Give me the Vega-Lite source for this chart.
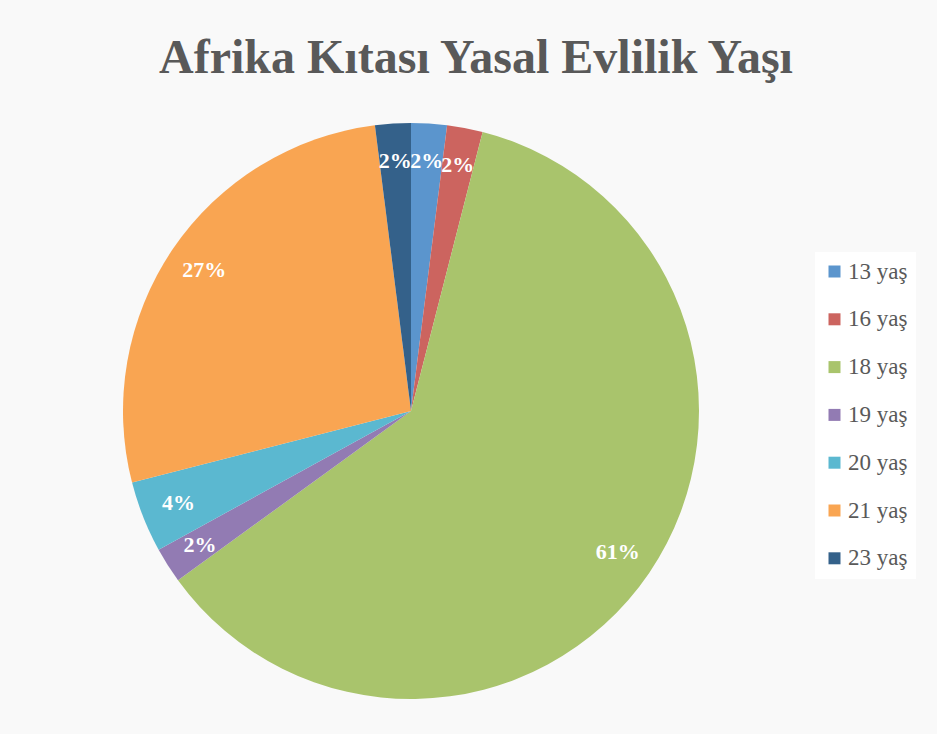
{
  "$schema": "https://vega.github.io/schema/vega-lite/v6.json",
  "autosize": {"type": "none"},
  "width": 822,
  "height": 576,
  "padding": {"top": 123, "left": 0, "right": 115, "bottom": 35},
  "background": "#F9F9F9",
  "title": {
    "text": "Afrika Kıtası Yasal Evlilik Yaşı",
    "font": "Liberation Serif",
    "fontSize": 48,
    "fontWeight": "bold",
    "color": "#595959",
    "anchor": "middle",
    "baseline": "alphabetic",
    "offset": 2,
    "dx": 65
  },
  "data": {
    "values": [
      {"age": "13 yaş", "value": 0.02},
      {"age": "16 yaş", "value": 0.02},
      {"age": "18 yaş", "value": 0.61},
      {"age": "19 yaş", "value": 0.02},
      {"age": "20 yaş", "value": 0.04},
      {"age": "21 yaş", "value": 0.27},
      {"age": "23 yaş", "value": 0.02}
    ]
  },
  "encoding": {
    "theta": {"field": "value", "type": "quantitative", "stack": true},
    "order": {"field": "age", "type": "ordinal", "sort": "ascending"}
  },
  "layer": [
    {
      "mark": {"type": "arc", "outerRadius": 288},
      "encoding": {
        "color": {
          "field": "age",
          "type": "nominal",
          "scale": {
            "domain": ["13 yaş", "16 yaş", "18 yaş", "19 yaş", "20 yaş", "21 yaş", "23 yaş"],
            "range": ["#5B95CD", "#CC645F", "#A9C46C", "#927BB3", "#5BB8D0", "#F9A552", "#34618A"]
          },
          "legend": {
            "orient": "none",
            "legendX": 815,
            "legendY": 129,
            "title": null,
            "symbolType": "square",
            "symbolSize": 144,
            "symbolStrokeWidth": 0,
            "labelFont": "Liberation Serif",
            "labelFontSize": 23,
            "labelColor": "#595959",
            "labelOffset": 2,
            "rowPadding": 23.8,
            "padding": 8,
            "fillColor": "white"
          }
        }
      }
    },
    {
      "mark": {
        "type": "text",
        "radius": 250,
        "font": "Liberation Serif",
        "fontSize": 22,
        "fontWeight": "bold",
        "color": "white",
        "align": "center",
        "baseline": "middle"
      },
      "encoding": {
        "text": {"field": "value", "type": "quantitative", "format": ".0%"}
      }
    }
  ],
  "config": {"view": {"stroke": null}}
}
